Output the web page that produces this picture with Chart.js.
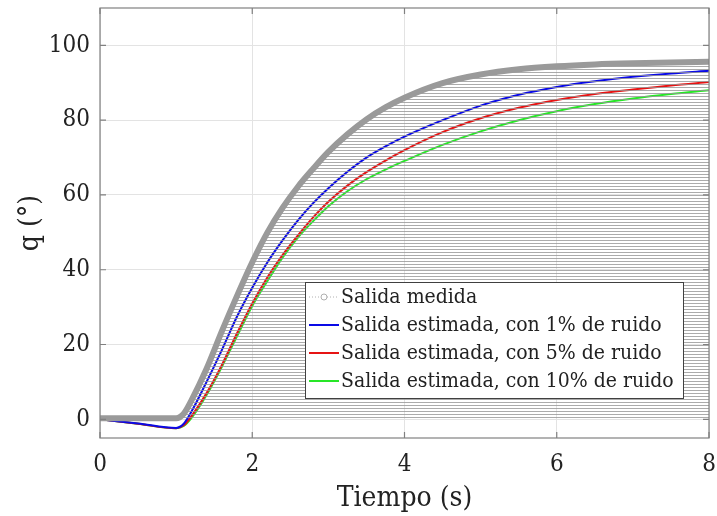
<!DOCTYPE html>
<html lang="es">
<head>
    <meta charset="UTF-8">
    <title>Salida medida y estimada</title>
    <style>
        body {
            margin: 0;
            padding: 0;
            background-color: #fff;
        }

        #chartContainer {
            width: 717px;
            height: 516px;
        }
    </style>
</head>
<body>
    <div id="chartContainer">
        <canvas id="salidaChart"></canvas>
    </div>

    <script src="https://cdn.jsdelivr.net/npm/chart.js"></script>
    <script>
        // Tiempo de muestreo (s)
        const tiempo = [0, 0.5, 1.0, 1.1, 1.2, 1.4, 1.6, 1.8, 2.0, 2.2, 2.4, 2.6, 2.8, 3.0, 3.25, 3.5, 3.75, 4.0, 4.5, 5.0, 5.5, 6.0, 6.5, 7.0, 7.5, 8.0];

        // Salida medida q (°)
        const salidaMedida = [0.3, 0.3, 0.3, 1.5, 5.0, 13.5, 23.5, 33.0, 42.0, 50.0, 56.6, 62.2, 67.0, 71.5, 76.2, 80.2, 83.4, 86.0, 89.9, 92.2, 93.6, 94.4, 94.9, 95.2, 95.4, 95.6];

        // Salidas estimadas con distintos niveles de ruido
        const estimada1 = [0, -1.1, -2.3, -1.2, 2.0, 10.0, 18.5, 27.5, 35.2, 42.0, 47.9, 53.2, 57.8, 61.8, 66.2, 70.0, 73.0, 75.6, 80.0, 83.9, 86.8, 88.9, 90.4, 91.6, 92.5, 93.2];
        const estimada5 = [0, -1.2, -2.4, -1.6, 0.8, 7.0, 14.5, 23.0, 31.0, 38.0, 44.0, 49.2, 54.0, 58.2, 62.5, 66.1, 69.2, 72.0, 76.8, 80.5, 83.3, 85.4, 87.0, 88.2, 89.3, 90.2];
        const estimada10 = [0, -1.2, -2.4, -1.8, 0.3, 6.5, 14.0, 22.2, 30.3, 37.0, 43.3, 48.6, 53.0, 57.0, 61.0, 64.2, 66.8, 69.1, 73.4, 77.0, 80.0, 82.4, 84.3, 85.8, 87.0, 88.0];

        const ticksX = [0, 2, 4, 6, 8];
        const ticksY = [0, 20, 40, 60, 80, 100];

        const etiquetas = [
            'Salida medida',
            'Salida estimada, con 1% de ruido',
            'Salida estimada, con 5% de ruido',
            'Salida estimada, con 10% de ruido'
        ];

        const fuente = '"DejaVu Serif Condensed", "DejaVu Serif", serif';

        function puntos(valores) {
            return tiempo.map((t, i) => ({ x: t, y: valores[i] }));
        }

        // Rayado horizontal bajo la salida medida
        function crearRayado() {
            const c = document.createElement('canvas');
            c.width = 8;
            c.height = 3;
            const g = c.getContext('2d');
            g.fillStyle = 'rgba(150, 150, 150, 0.8)';
            g.fillRect(0, 0, 8, 1);
            return g.createPattern(c, 'repeat');
        }

        // Sin márgenes extra por las etiquetas de los extremos
        function sinRelleno(s) {
            s.paddingTop = 0;
            s.paddingBottom = 0;
            s.paddingLeft = 0;
            s.paddingRight = 0;
        }

        // Caja de ejes y marcas interiores, estilo MATLAB
        const cajaEjes = {
            id: 'cajaEjes',
            afterDatasetsDraw(chart) {
                const { ctx, chartArea: a, scales } = chart;
                ctx.save();
                ctx.strokeStyle = '#808080';
                ctx.lineWidth = 1.2;
                ctx.beginPath();
                ticksX.forEach(v => {
                    const x = scales.x.getPixelForValue(v);
                    ctx.moveTo(x, a.bottom); ctx.lineTo(x, a.bottom - 6);
                    ctx.moveTo(x, a.top); ctx.lineTo(x, a.top + 6);
                });
                ticksY.forEach(v => {
                    const y = scales.y.getPixelForValue(v);
                    ctx.moveTo(a.left, y); ctx.lineTo(a.left + 6, y);
                    ctx.moveTo(a.right, y); ctx.lineTo(a.right - 6, y);
                });
                ctx.stroke();
                ctx.strokeRect(a.left, a.top, a.right - a.left, a.bottom - a.top);
                ctx.restore();
            }
        };

        // Leyenda dentro del área de ejes
        const leyenda = {
            id: 'leyenda',
            afterDraw(chart) {
                const { ctx } = chart;
                const x0 = 305, y0 = 282, w = 378, h = 116, paso = 28;
                ctx.save();
                ctx.fillStyle = '#fff';
                ctx.fillRect(x0, y0, w, h);
                ctx.strokeStyle = '#404040';
                ctx.lineWidth = 1;
                ctx.strokeRect(x0 + 0.5, y0 + 0.5, w, h);
                ctx.font = '21px ' + fuente;
                ctx.textBaseline = 'middle';
                chart.data.datasets.forEach((ds, i) => {
                    const y = y0 + 15 + i * paso;
                    if (i === 0) {
                        ctx.strokeStyle = '#b0b0b0';
                        ctx.setLineDash([1, 2]);
                        ctx.beginPath();
                        ctx.moveTo(x0 + 4, y); ctx.lineTo(x0 + 34, y);
                        ctx.stroke();
                        ctx.setLineDash([]);
                        ctx.fillStyle = '#fff';
                        ctx.beginPath();
                        ctx.arc(x0 + 19, y, 3, 0, Math.PI * 2);
                        ctx.fill();
                        ctx.stroke();
                    } else {
                        ctx.strokeStyle = ds.borderColor;
                        ctx.lineWidth = 2;
                        ctx.beginPath();
                        ctx.moveTo(x0 + 4, y); ctx.lineTo(x0 + 34, y);
                        ctx.stroke();
                        ctx.lineWidth = 1;
                    }
                    ctx.fillStyle = '#222';
                    ctx.fillText(etiquetas[i], x0 + 36, y + 1);
                });
                ctx.restore();
            }
        };

        const ctx = document.getElementById('salidaChart').getContext('2d');

        new Chart(ctx, {
            type: 'line',
            data: {
                datasets: [
                    {
                        label: etiquetas[0],
                        data: puntos(salidaMedida),
                        borderColor: '#9a9a9a',
                        borderWidth: 6,
                        pointRadius: 0,
                        fill: 'origin',
                        backgroundColor: crearRayado(),
                        cubicInterpolationMode: 'monotone'
                    },
                    {
                        label: etiquetas[1],
                        data: puntos(estimada1),
                        borderColor: '#0a0ae6',
                        borderWidth: 2,
                        pointRadius: 0,
                        cubicInterpolationMode: 'monotone'
                    },
                    {
                        label: etiquetas[2],
                        data: puntos(estimada5),
                        borderColor: '#e61414',
                        borderWidth: 2,
                        pointRadius: 0,
                        cubicInterpolationMode: 'monotone'
                    },
                    {
                        label: etiquetas[3],
                        data: puntos(estimada10),
                        borderColor: '#28e628',
                        borderWidth: 2,
                        pointRadius: 0,
                        cubicInterpolationMode: 'monotone'
                    }
                ]
            },
            options: {
                responsive: true,
                maintainAspectRatio: false,
                animation: false,
                layout: {
                    autoPadding: false,
                    padding: { top: 8, right: 8, left: 0, bottom: 0 }
                },
                plugins: {
                    legend: { display: false },
                    tooltip: { enabled: false }
                },
                scales: {
                    x: {
                        type: 'linear',
                        min: 0,
                        max: 8,
                        afterBuildTicks: s => { s.ticks = ticksX.map(v => ({ value: v })); },
                        afterFit: s => { s.height = 78; sinRelleno(s); },
                        grid: { color: '#e3e3e3', drawTicks: false },
                        border: { display: false },
                        ticks: {
                            padding: 12,
                            color: '#222',
                            font: { family: fuente, size: 24 }
                        },
                        title: {
                            display: true,
                            text: 'Tiempo (s)',
                            color: '#222',
                            padding: { top: 0, bottom: 0 },
                            font: { family: fuente, size: 28 }
                        }
                    },
                    y: {
                        min: -5,
                        max: 110,
                        afterBuildTicks: s => { s.ticks = ticksY.map(v => ({ value: v })); },
                        afterFit: s => { s.width = 100; sinRelleno(s); },
                        grid: { color: '#e3e3e3', drawTicks: false },
                        border: { display: false },
                        ticks: {
                            padding: 10,
                            color: '#222',
                            font: { family: fuente, size: 24 }
                        },
                        title: {
                            display: true,
                            text: 'q (°)',
                            color: '#222',
                            padding: { top: 14, bottom: 0 },
                            font: { family: fuente, size: 28 }
                        }
                    }
                }
            },
            plugins: [cajaEjes, leyenda]
        });
    </script>
</body>
</html>
